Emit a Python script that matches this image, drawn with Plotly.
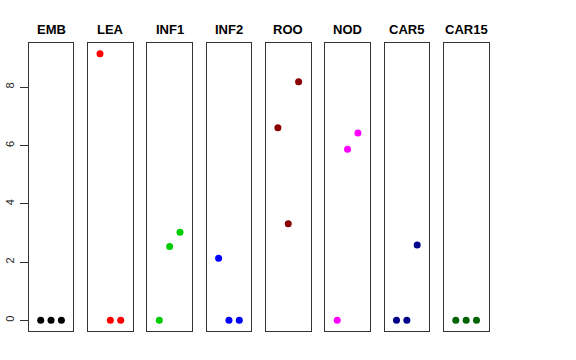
import plotly.graph_objects as go

categories = ["EMB", "LEA", "INF1", "INF2", "ROO", "NOD", "CAR5", "CAR15"]
colors = ["#000000", "#FF0000", "#00CD00", "#0000FF", "#8B0000", "#FF00FF", "#00008B", "#006400"]
replicates = [1, 2, 3]
values = {
    "EMB": [0, 0, 0],
    "LEA": [9.15, 0, 0],
    "INF1": [0, 2.53, 3.02],
    "INF2": [2.13, 0, 0],
    "ROO": [6.61, 3.31, 8.19],
    "NOD": [0, 5.87, 6.43],
    "CAR5": [0, 0, 2.585],
    "CAR15": [0, 0, 0],
}
y_ticks = [0, 2, 4, 6, 8]

W, H = 576, 360
left0, pw, pitch = 28.7, 44.7, 59.3
top_px, bot_px = 43, 331
title_px = 29

fig = go.Figure()
layout = dict(
    width=W, height=H, margin=dict(l=0, r=0, t=0, b=0, autoexpand=False),
    paper_bgcolor="white", plot_bgcolor="white", showlegend=False,
    font=dict(family="Liberation Sans, Arial, sans-serif", color="black"),
)
annotations = []
ymax = max(max(v) for v in values.values())
yr = [-0.04 * ymax, ymax * 1.04]
for i, cat in enumerate(categories):
    n = i + 1
    xa = "x" if n == 1 else f"x{n}"
    ya = "y" if n == 1 else f"y{n}"
    fig.add_trace(go.Scatter(
        x=replicates, y=values[cat], mode="markers", xaxis=xa, yaxis=ya,
        marker=dict(color=colors[i], size=7, line=dict(width=0)),
    ))
    x0 = (left0 + pitch * i) / W
    x1 = (left0 + pitch * i + pw) / W
    key_x = "xaxis" if n == 1 else f"xaxis{n}"
    key_y = "yaxis" if n == 1 else f"yaxis{n}"
    layout[key_x] = dict(
        domain=[x0, x1], range=[-0.16, 4.16], showticklabels=False, ticks="",
        showgrid=False, zeroline=False, showline=True, mirror=True,
        linecolor="#333333", linewidth=1, anchor=ya, automargin=False,
    )
    yd = dict(
        domain=[1 - bot_px / H, 1 - top_px / H], range=yr, showgrid=False,
        zeroline=False, showline=True, mirror=True, linecolor="#333333",
        linewidth=1, anchor=xa, automargin=False,
    )
    if n == 1:
        yd.update(tickvals=y_ticks, ticks="outside", ticklen=8, tickwidth=1,
                  tickcolor="#333333", tickangle=-90, ticklabelstandoff=1,
                  tickfont=dict(size=11, color="#222222"))
    else:
        yd.update(showticklabels=False, ticks="")
    layout[key_y] = yd
    annotations.append(dict(
        text=f"<b>{cat}</b>", x=(x0 + x1) / 2, y=1 - title_px / H, xref="paper",
        yref="paper", showarrow=False, xanchor="center", yanchor="middle",
        font=dict(size=13, color="black"),
    ))
layout["annotations"] = annotations
fig.update_layout(**layout)
fig.write_html(
    "out.html",
    config={"displayModeBar": False},
    post_script="document.body.style.margin='0';document.body.style.padding='0';",
)
